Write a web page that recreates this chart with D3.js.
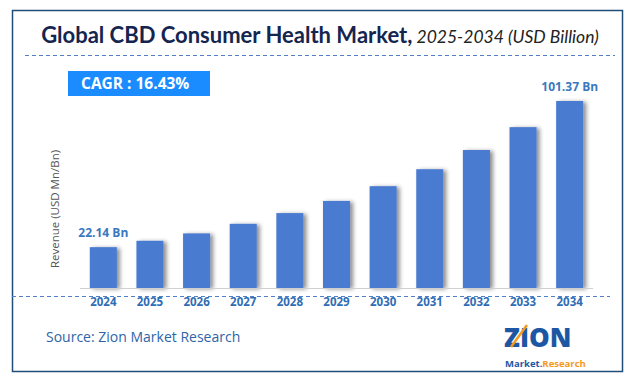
<!DOCTYPE html>
<html lang="en">
<head>
  <meta charset="utf-8">
  <title>Global CBD Consumer Health Market</title>
  <script src="https://cdn.jsdelivr.net/npm/d3@7"></script>
  <style>
  body { margin: 0; background: #fff; }
  svg text { font-family: "Open Sans", "Noto Sans", sans-serif; }
  </style>
</head>
<body>
<div id="chart"></div>
<script>
// chart data
var years = ["2024","2025","2026","2027","2028","2029","2030","2031","2032","2033","2034"];
var revenue = [22.14, 25.6, 29.6, 34.8, 40.6, 47.2, 55.2, 64.4, 74.8, 87.2, 101.37];
var labelled = ["2024", "2034"];   // bars that carry a value label
var cagrText = "CAGR : 16.43%";

var width = 635, height = 388;
var barColor = "#4a7bd1";
var tickColor = "#2f6db5";

var svg = d3.select("#chart").append("svg")
  .attr("width", width)
  .attr("height", height);

// bar shadow
var defs = svg.append("defs");
var f = defs.append("filter").attr("id", "shadow")
  .attr("x", "-20%").attr("y", "-10%").attr("width", "160%").attr("height", "120%");
f.append("feDropShadow")
  .attr("dx", 3).attr("dy", 1).attr("stdDeviation", 2)
  .attr("flood-color", "#000").attr("flood-opacity", 0.45);

// outer frame
svg.append("rect")
  .attr("x", 12.5).attr("y", 10.5)
  .attr("width", 610).attr("height", 361)
  .attr("fill", "none")
  .attr("stroke", "#1f4e79")
  .attr("stroke-width", 1.5);

// title
var title = svg.append("text")
  .attr("x", 320).attr("y", 43)
  .attr("text-anchor", "middle")
  .attr("fill", "#14254f");
title.append("tspan")
  .attr("font-family", "Lato, sans-serif")
  .attr("font-weight", "bold")
  .attr("font-size", 22)
  .text("Global CBD Consumer Health Market,");
title.append("tspan")
  .attr("font-family", "Lato, sans-serif")
  .attr("font-style", "italic")
  .attr("font-size", 17.5)
  .attr("fill", "#222")
  .text(" 2025-2034 (USD Billion)");

// dashed rule under title
svg.append("line")
  .attr("x1", 25).attr("x2", 615)
  .attr("y1", 55.5).attr("y2", 55.5)
  .attr("stroke", "#4f7fc4")
  .attr("stroke-dasharray", "4,3");

// CAGR badge
svg.append("rect")
  .attr("x", 68).attr("y", 71)
  .attr("width", 142).attr("height", 25)
  .attr("fill", "#1a8cff");
svg.append("text")
  .attr("x", 81).attr("y", 89)
  .attr("fill", "#fff")
  .attr("font-family", "Lato, sans-serif")
  .attr("font-weight", "bold")
  .attr("font-size", 15.5)
  .text(cagrText);

// scales
var x = d3.scaleBand()
  .domain(years)
  .range([80, 593])
  .paddingInner(0.42)
  .paddingOuter(0.21);

var y = d3.scaleLinear()
  .domain([0, 101.37])
  .range([288, 101]);

// bars
svg.append("g").selectAll("rect")
  .data(years)
  .enter().append("rect")
  .attr("x", function(d) { return x(d); })
  .attr("y", function(d, i) { return y(revenue[i]); })
  .attr("width", x.bandwidth())
  .attr("height", function(d, i) { return y(0) - y(revenue[i]); })
  .attr("fill", barColor)
  .attr("filter", "url(#shadow)");

// baseline
svg.append("line")
  .attr("x1", 80).attr("x2", 593)
  .attr("y1", 288.5).attr("y2", 288.5)
  .attr("stroke", "#d0d0d0");

// x axis labels
var xAxis = svg.append("g")
  .attr("transform", "translate(0,292)")
  .call(d3.axisBottom(x).tickSize(0).tickPadding(6));
xAxis.select(".domain").remove();
xAxis.selectAll("text")
  .attr("fill", tickColor)
  .attr("font-family", "Lato, sans-serif")
  .attr("font-weight", "bold")
  .attr("font-size", 11.5);

// dashed rule under axis
svg.append("line")
  .attr("x1", 12).attr("x2", 610)
  .attr("y1", 296.5).attr("y2", 296.5)
  .attr("stroke", "#4f7fc4")
  .attr("stroke-dasharray", "4,3");

// value labels
svg.append("g").selectAll("text")
  .data(labelled)
  .enter().append("text")
  .attr("x", function(d) { return x(d) + x.bandwidth() / 2; })
  .attr("y", function(d) { return y(revenue[years.indexOf(d)]) - 10; })
  .attr("text-anchor", "middle")
  .attr("fill", "#3a78c0")
  .attr("font-family", "Lato, sans-serif")
  .attr("font-weight", "bold")
  .attr("font-size", 12)
  .text(function(d) { return revenue[years.indexOf(d)].toFixed(2) + " Bn"; });

// y axis title
svg.append("text")
  .attr("transform", "translate(59,209) rotate(-90)")
  .attr("text-anchor", "middle")
  .attr("fill", "#555")
  .attr("font-size", 11.5)
  .text("Revenue (USD Mn/Bn)");

// source
svg.append("text")
  .attr("x", 46).attr("y", 342)
  .attr("fill", "#2e64a8")
  .attr("font-size", 14)
  .text("Source: Zion Market Research");

// logo (rough text version)
var logo = svg.append("g");
logo.append("text")
  .attr("x", 504).attr("y", 347)
  .attr("fill", "#1d57a3")
  .attr("font-family", "Lato, sans-serif")
  .attr("font-weight", "900")
  .attr("font-size", 26)
  .text("ZION");
logo.append("line")
  .attr("x1", 511).attr("y1", 347).attr("x2", 527).attr("y2", 325)
  .attr("stroke", "#f39a1e").attr("stroke-width", 2.5);
var mr = logo.append("text")
  .attr("x", 505).attr("y", 367)
  .attr("font-family", "Lato, sans-serif")
  .attr("font-weight", "bold")
  .attr("font-size", 9.5);
mr.append("tspan").attr("fill", "#1d57a3").text("Market.");
mr.append("tspan").attr("fill", "#f39a1e").text("Research");
</script>
</body>
</html>
